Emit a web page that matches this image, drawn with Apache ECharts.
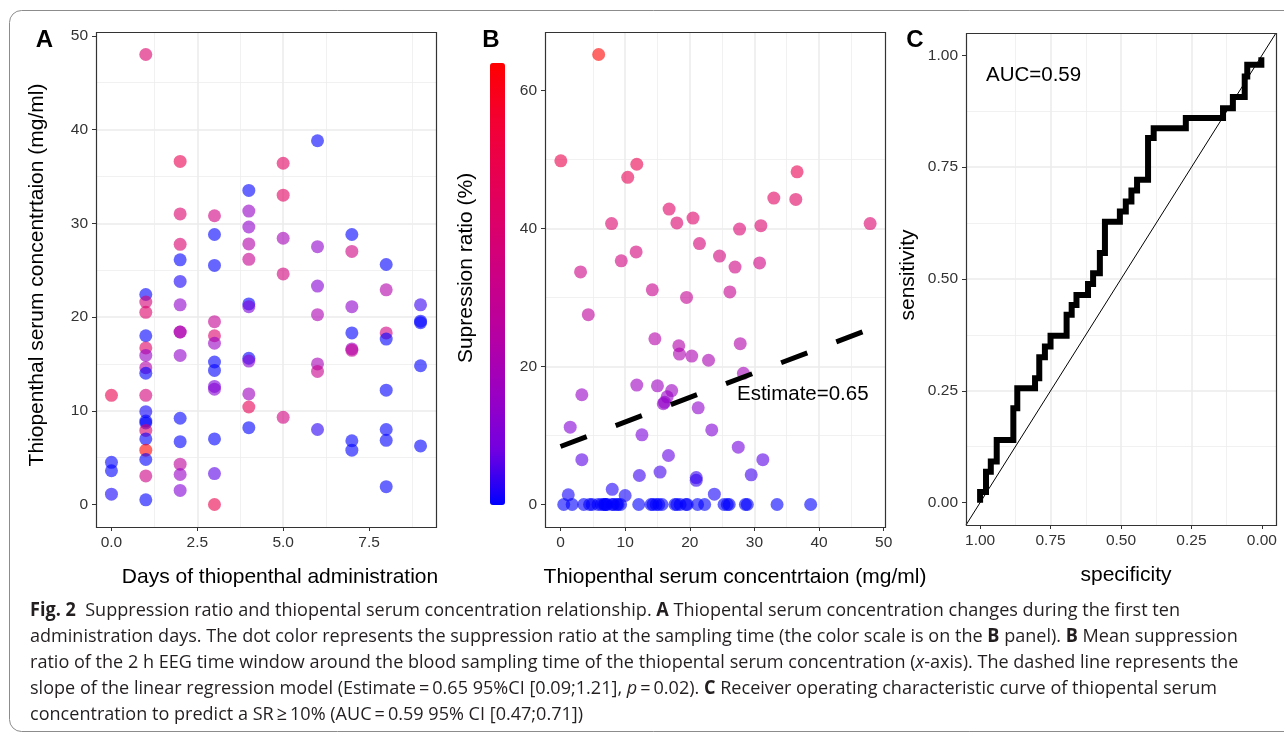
<!DOCTYPE html>
<html>
<head>
<meta charset="utf-8">
<title>Fig. 2</title>
<script src="https://cdn.jsdelivr.net/npm/echarts@6.0.0/dist/echarts.min.js"></script>
<style>
  html, body { margin: 0; padding: 0; background: #fff; }
  #chart { width: 1284px; height: 734px; }
</style>
</head>
<body>
<div id="chart"></div>
<script>
// ---- panel A: serum concentration per day, SR only drives the dot colour
var days = [0, 1, 2, 3, 4, 5, 6, 7, 8, 9];
var concByDay = [
  [11.65, 4.5, 3.6, 1.1],
  [48.0, 22.4, 21.6, 20.5, 18.0, 16.7, 15.9, 14.6, 14.0, 11.65, 9.9, 8.9, 8.7, 7.9, 7.0, 5.8, 4.8, 3.05, 0.5],
  [36.6, 31.0, 27.75, 26.1, 23.8, 21.3, 18.4, 18.4, 15.9, 9.2, 6.7, 4.3, 3.2, 1.5],
  [30.8, 28.8, 25.5, 19.5, 18.0, 17.2, 15.2, 14.3, 12.6, 12.3, 7.0, 3.3, 0],
  [33.5, 31.3, 29.6, 27.8, 26.15, 21.4, 21.1, 15.6, 15.3, 11.8, 10.4, 8.2],
  [36.4, 33.0, 28.4, 24.6, 9.3],
  [38.8, 27.5, 23.3, 20.25, 15.0, 14.2, 8.0],
  [28.8, 27.0, 21.1, 18.3, 16.6, 16.45, 6.8, 5.8],
  [25.6, 22.9, 18.3, 17.65, 12.2, 8.0, 6.85, 1.9],
  [21.3, 19.55, 19.4, 14.8, 6.25]
];
var srByDay = [
  [49.4, 0, 0, 1.4],
  [40.8, 0, 37.9, 41.6, 0, 42.8, 15.2, 24.1, 0, 36.7, 1.3, 0, 0, 40.8, 0, 65, 0, 33.8, 0],
  [48.4, 40.5, 40, 0, 1.7, 14, 23, 21.8, 14.6, 0, 0, 27.5, 15.9, 11.3],
  [35.1, 0, 0, 30, 40.6, 16.3, 0, 0, 10.1, 12, 0, 6.5, 50],
  [0, 15, 14, 23, 31, 0, 10, 0, 12, 17.5, 47.4, 0],
  [44.4, 44.5, 19.1, 36.3, 35.4],
  [0, 14, 12, 21.5, 20, 31.2, 3],
  [0, 34.5, 14, 0, 16, 30, 0, 0],
  [0, 23, 35, 0, 0, 0, 0, 0],
  [4, 0, 0, 0, 0]
];

// ---- panel B: concentration vs suppression ratio
var bConc = [5.9, 0.05, 11.8, 10.4, 36.6, 36.4, 33.0, 16.8, 7.9, 18.0, 20.5, 27.7, 31.0, 47.9,
  11.7, 9.4, 21.5, 24.6, 27.0, 30.8, 3.1, 26.2, 14.2, 19.5, 4.3, 14.6, 27.8, 18.3, 18.4, 20.3,
  22.9, 28.3, 11.8, 15.0, 17.2, 16.5, 15.9, 16.1, 3.3, 21.3, 1.5, 12.6, 23.4, 27.5, 3.3, 16.7,
  31.3, 12.2, 15.4, 29.5, 21.0, 21.0, 8.0, 1.2, 10.0, 23.8];
var bSR = [65.2, 49.8, 49.3, 47.4, 48.2, 44.2, 44.4, 42.8, 40.7, 40.8, 41.5, 39.9, 40.4, 40.7,
  36.6, 35.3, 37.8, 36.0, 34.4, 35.0, 33.7, 30.8, 31.1, 30.0, 27.5, 24.0, 23.3, 23.0, 21.8, 21.5,
  20.9, 19.0, 17.3, 17.2, 16.5, 15.6, 14.6, 14.8, 15.9, 14.0, 11.2, 10.1, 10.8, 8.3, 6.5, 7.1,
  6.5, 4.2, 4.7, 4.3, 3.9, 3.5, 2.2, 1.4, 1.3, 1.5];
// samples with SR = 0 (bottom row)
var bConcZero = [0.5, 1.8, 3.6, 4.5, 4.9, 5.8, 6.3, 6.7, 6.9, 7.0, 7.2, 8.0, 8.2, 8.7, 8.9, 9.3,
  12.1, 14.0, 14.3, 14.8, 15.2, 15.7, 17.7, 18.0, 18.5, 19.4, 19.6, 21.2, 22.3, 25.3, 25.8, 26.1,
  28.6, 28.9, 33.5, 38.7];
var regConc = [0, 47.8];
var regSR = [8.4, 25.4];

// ---- panel C: ROC steps (specificity, sensitivity after each vertical step)
var rocSpec = [1.000, 0.979, 0.962, 0.941, 0.882, 0.868, 0.805, 0.790, 0.770, 0.750, 0.693, 0.675,
  0.658, 0.617, 0.599, 0.575, 0.557, 0.504, 0.483, 0.463, 0.443, 0.404, 0.384, 0.270, 0.138,
  0.103, 0.061, 0.052, 0.002];
var rocSens = [0.024, 0.069, 0.092, 0.140, 0.211, 0.256, 0.278, 0.325, 0.349, 0.373, 0.420, 0.442,
  0.464, 0.489, 0.513, 0.558, 0.628, 0.651, 0.673, 0.698, 0.722, 0.815, 0.837, 0.860, 0.882,
  0.907, 0.953, 0.979, 0.996];
var diagSpec = [1.05, -0.05];
var diagSens = [-0.05, 1.05];

// tick labels
var aXTicks = [0, 2.5, 5, 7.5];
var aYTicks = [0, 10, 20, 30, 40, 50];
var bXTicks = [0, 10, 20, 30, 40, 50];
var bYTicks = [0, 20, 40, 60];
var cTicks = [0, 0.25, 0.5, 0.75, 1];

var FONT = "'Liberation Sans', Arial, sans-serif";
// blue -> red, interpolated in Lab like ggplot's gradient
var SR_COLORS = ['#0000FF', '#7300E0', '#9A00C3', '#B500A5', '#C90089', '#DA006C', '#E80050', '#F40031', '#FF0000'];

var grids = [
  { left: 96, top: 32, width: 340, height: 495 },
  { left: 545, top: 32, width: 340, height: 495 },
  { left: 966, top: 33, width: 310, height: 492 }
];

function valueAxis(gi, min, max, step, ticks, digits, inverse) {
  return {
    type: 'value', gridIndex: gi, min: min, max: max, inverse: !!inverse,
    minInterval: step, maxInterval: step,
    axisLine: { show: false, onZero: false },
    axisTick: { show: true, length: 4, customValues: ticks, lineStyle: { color: '#333', width: 1 } },
    axisLabel: {
      customValues: ticks, color: '#333', fontSize: 15.5, fontFamily: FONT, margin: 8,
      formatter: function (v) { return v.toFixed(digits); }
    },
    splitLine: { show: true, showMinLine: false, showMaxLine: false, lineStyle: { color: '#EBEBEB', width: 1.5 } },
    minorTick: { show: false, splitNumber: 2 },
    minorSplitLine: { show: true, lineStyle: { color: '#EDEDED', width: 0.8 } }
  };
}

var aData = [];
days.forEach(function (d, i) {
  concByDay[i].forEach(function (c, j) { aData.push([d, c, srByDay[i][j]]); });
});
var bData = bConc.map(function (c, i) { return [c, bSR[i]]; })
  .concat(bConcZero.map(function (c) { return [c, 0]; }));
var regData = regConc.map(function (c, i) { return [c, regSR[i]]; });
var diagData = diagSpec.map(function (s, i) { return [s, diagSens[i]]; });
var rocData = [[rocSpec[0], 0]];
rocSpec.forEach(function (s, i) {
  rocData.push([s, rocSens[i]]);
  if (i + 1 < rocSpec.length) rocData.push([rocSpec[i + 1], rocSens[i]]);
});

// caption, measured so the first line spans the same width as the original
var capFont = "'Open Sans', sans-serif";
var capSize = 19;
var capLeft = 30;
var capLines = [
  '{b|Fig. 2}  Suppression ratio and thiopental serum concentration relationship. {b|A} Thiopental serum concentration changes during the first ten',
  'administration days. The dot color represents the suppression ratio at the sampling time (the color scale is on the {b|B} panel). {b|B} Mean suppression',
  'ratio of the 2 h EEG time window around the blood sampling time of the thiopental serum concentration ({i|x}-axis). The dashed line represents the',
  'slope of the linear regression model (Estimate\u2009=\u20090.65 95%CI [0.09;1.21], {i|p}\u2009=\u20090.02). {b|C} Receiver operating characteristic curve of thiopental serum',
  'concentration to predict a SR\u2009\u2265\u200910% (AUC\u2009=\u20090.59 95% CI [0.47;0.71])'
];
var mctx = document.createElement('canvas').getContext('2d');
function lineWidth(line) {
  var w = 0, re = /\{(\w)\|([^}]*)\}|([^{]+)/g, m;
  while ((m = re.exec(line))) {
    var t = m[3] != null ? m[3] : m[2];
    var st = m[1] === 'b' ? 'bold ' : (m[1] === 'i' ? 'italic ' : '');
    mctx.font = st + capSize + 'px ' + capFont;
    w += mctx.measureText(t).width;
  }
  return w;
}
var capScale = (1180 - capLeft) / lineWidth(capLines[0]);

function txt(x, y, s, size, extra) {
  var el = {
    type: 'text', x: x, y: y, silent: true, z: 110,
    style: { text: s, fontFamily: FONT, fontSize: size, fill: '#000', align: 'center', verticalAlign: 'middle' }
  };
  if (extra) {
    for (var k in extra) {
      if (k === 'style') { for (var q in extra.style) el.style[q] = extra.style[q]; }
      else el[k] = extra[k];
    }
  }
  return el;
}

var elements = [
  { type: 'rect', silent: true, z: 1, shape: { x: 9.5, y: 10.5, width: 1300, height: 721, r: 12 },
    style: { fill: 'none', stroke: '#8c8c8c', lineWidth: 1 } }
];
grids.forEach(function (g) {
  elements.push({ type: 'rect', silent: true, z: 100,
    shape: { x: g.left + 0.5, y: g.top + 0.5, width: g.width, height: g.height },
    style: { fill: 'none', stroke: '#333', lineWidth: 1.2 } });
});
elements.push(
  txt(44.5, 40, 'A', 24, { style: { fontWeight: 'bold' } }),
  txt(491, 40.5, 'B', 24, { style: { fontWeight: 'bold' } }),
  txt(915, 40, 'C', 24, { style: { fontWeight: 'bold' } }),
  txt(37, 275, 'Thiopenthal serum concentrtaion (mg/ml)', 21, { rotation: Math.PI / 2 }),
  txt(280, 577, 'Days of thiopenthal administration', 21),
  txt(466, 268, 'Supression ratio (%)', 21, { rotation: Math.PI / 2 }),
  txt(735, 577, 'Thiopenthal serum concentrtaion (mg/ml)', 21),
  txt(908, 275, 'sensitivity', 21, { rotation: Math.PI / 2 }),
  txt(1126, 575, 'specificity', 21),
  txt(737, 394, 'Estimate=0.65', 20.5, { style: { align: 'left' } }),
  txt(986, 75, 'AUC=0.59', 20.5, { style: { align: 'left' } })
);
var capY = [611, 637, 663, 689, 715];
capLines.forEach(function (line, i) {
  elements.push({
    type: 'text', x: capLeft, y: capY[i], scaleX: capScale, silent: true, z: 110,
    style: {
      text: line, fontFamily: capFont, fontSize: capSize, fill: '#231F20',
      align: 'left', verticalAlign: 'middle',
      rich: {
        b: { fontFamily: capFont, fontSize: capSize, fontWeight: 'bold', fill: '#231F20' },
        i: { fontFamily: capFont, fontSize: capSize, fontStyle: 'italic', fill: '#231F20' }
      }
    }
  });
});

var chart = echarts.init(document.getElementById('chart'), null, { renderer: 'canvas' });
chart.setOption({
  animation: false,
  backgroundColor: '#fff',
  grid: grids,
  xAxis: [
    valueAxis(0, -0.45, 9.45, 2.5, aXTicks, 1),
    valueAxis(1, -2.4, 50.2, 10, bXTicks, 0),
    valueAxis(2, -0.05, 1.05, 0.25, cTicks, 2, true)
  ],
  yAxis: [
    valueAxis(0, -2.4, 50.4, 10, aYTicks, 0),
    valueAxis(1, -3.26, 68.46, 20, bYTicks, 0),
    valueAxis(2, -0.05, 1.05, 0.25, cTicks, 2)
  ],
  visualMap: [
    { type: 'continuous', seriesIndex: 1, dimension: 1, min: 0, max: 65, show: true,
      calculable: false, hoverLink: false, padding: 0, left: 490, top: 63,
      itemWidth: 15, itemHeight: 442, inRange: { color: SR_COLORS } },
    { type: 'continuous', seriesIndex: 0, dimension: 2, min: 0, max: 65, show: false,
      inRange: { color: SR_COLORS } }
  ],
  series: [
    { type: 'scatter', xAxisIndex: 0, yAxisIndex: 0, data: aData, symbolSize: 13,
      itemStyle: { opacity: 0.6 }, silent: true },
    { type: 'scatter', xAxisIndex: 1, yAxisIndex: 1, data: bData, symbolSize: 13,
      itemStyle: { opacity: 0.6 }, silent: true },
    { type: 'line', xAxisIndex: 1, yAxisIndex: 1, data: regData, symbol: 'none', silent: true, z: 5,
      lineStyle: { color: '#000', width: 5, type: [28, 31], cap: 'butt' } },
    { type: 'line', xAxisIndex: 2, yAxisIndex: 2, data: diagData, symbol: 'none', silent: true,
      lineStyle: { color: '#000', width: 1 } },
    { type: 'line', xAxisIndex: 2, yAxisIndex: 2, data: rocData, symbol: 'none', silent: true,
      lineStyle: { color: '#000', width: 6, join: 'miter', cap: 'butt' } }
  ],
  graphic: { elements: elements }
});
</script>
</body>
</html>
